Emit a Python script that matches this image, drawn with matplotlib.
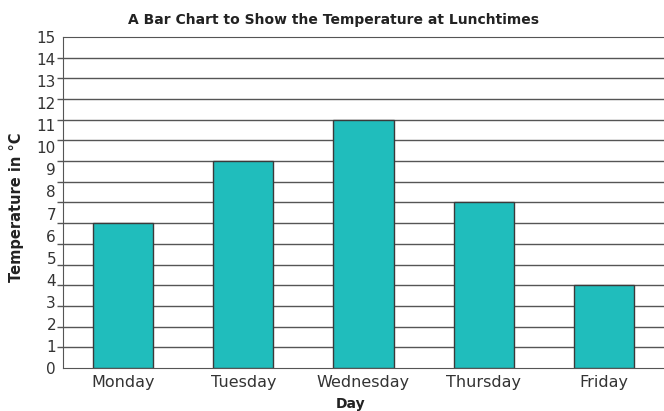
import numpy as np
import matplotlib
matplotlib.use("Agg")
import matplotlib.pyplot as plt

# Data (bar tops sit on the drawn grid lines, read against the 0-15 labels)
days = ["Monday", "Tuesday", "Wednesday", "Thursday", "Friday"]
temps = [6.5625, 9.375, 11.25, 7.5, 3.75]
y_labels = [str(v) for v in range(16)]

bar_color = "#20bdbc"
text_color = "#333333"
rule_color = "#555555"

fig = plt.figure(figsize=(6.64, 4.11), dpi=100)
ax = fig.add_axes([63 / 664, 43 / 411, 601 / 664, 331 / 411])

x = np.arange(len(days))
ax.bar(x, temps, width=0.5, color=bar_color, edgecolor="#3a3a3a",
       linewidth=1, zorder=3)

ax.set_xlim(-0.5, 4.5)
ax.set_ylim(0, 15)

# 17 horizontal rules across the plot, labels 0-15 spread over the same height
grid_pos = np.linspace(0, 15, 17)
ax.set_yticks(grid_pos, minor=True)
ax.yaxis.grid(True, which="minor", color=rule_color, linewidth=1, zorder=0)
ax.tick_params(axis="y", which="minor", length=4, width=1, color=rule_color)
ax.set_yticks(range(16))
ax.set_yticklabels(y_labels)
ax.tick_params(axis="y", which="major", length=0, pad=5,
               labelsize=11, labelcolor=text_color)

ax.set_xticks(x)
ax.set_xticklabels(days)
ax.tick_params(axis="x", length=0, pad=5, labelsize=11.5, labelcolor=text_color)

ax.spines["right"].set_visible(False)
for side in ["left", "bottom", "top"]:
    ax.spines[side].set_color(rule_color)
ax.set_axisbelow(True)

fig.text(334 / 664, 1 - 20 / 411, "A Bar Chart to Show the Temperature at Lunchtimes",
         ha="center", va="center", fontsize=10, fontweight="bold", color="#222222")
fig.text(351 / 664, 1 - 404 / 411, "Day", ha="center", va="center",
         fontsize=10, fontweight="bold", color="#222222")
fig.text(17 / 664, 1 - 207 / 411, "Temperature in °C", ha="center", va="center",
         rotation=90, fontsize=10.5, fontweight="bold", color="#222222")

fig.savefig("out.png", dpi=100)
